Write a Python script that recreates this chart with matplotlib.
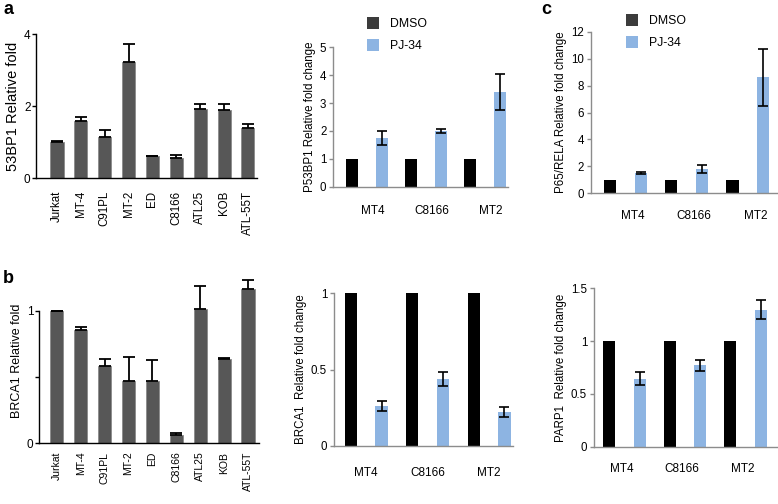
import matplotlib
matplotlib.use("Agg")
import matplotlib.pyplot as plt
import numpy as np
from matplotlib.patches import Patch

plt.rcParams['font.family'] = ['Liberation Sans', 'DejaVu Sans']

# ---------------- data ----------------
cell_lines = ["Jurkat", "MT-4", "C91PL", "MT-2", "ED", "C8166", "ATL25", "KOB", "ATL-55T"]
bp53_vals = [1.0, 1.57, 1.15, 3.22, 0.60, 0.55, 1.92, 1.89, 1.39]
bp53_err = [0.02, 0.12, 0.19, 0.51, 0.02, 0.09, 0.14, 0.16, 0.11]
brca1_vals = [1.0, 0.854, 0.583, 0.470, 0.472, 0.065, 1.015, 0.633, 1.166]
brca1_err = [0.0, 0.026, 0.053, 0.18, 0.158, 0.01, 0.175, 0.01, 0.064]

groups = ["MT4", "C8166", "MT2"]
series = ["DMSO", "PJ-34"]
p53bp1_dmso = [1.0, 1.0, 1.0]
p53bp1_pj = [1.75, 2.0, 3.40]
p53bp1_pj_err = [0.24, 0.07, 0.66]
p65_dmso = [1.0, 1.0, 1.0]
p65_pj = [1.51, 1.78, 8.6]
p65_pj_err = [0.05, 0.30, 2.1]
brca1_dmso = [1.0, 1.0, 1.0]
brca1_pj = [0.26, 0.438, 0.221]
brca1_pj_err = [0.035, 0.048, 0.03]
parp1_dmso = [1.0, 1.0, 1.0]
parp1_pj = [0.644, 0.77, 1.295]
parp1_pj_err = [0.06, 0.05, 0.09]

W, H = 778, 504
fig = plt.figure(figsize=(W / 100, H / 100), dpi=100)


def px_axes(x0, x1, ytop, ybot):
    return fig.add_axes([x0 / W, 1 - ybot / H, (x1 - x0) / W, (ybot - ytop) / H])


GRAY_BAR = "#575757"
BLUE = "#8db4e2"
AXG = "#8c8c8c"


def left_panel(ax, vals, errs, ylim, yticks, yticklabels, ylabel, ylabel_size, xlim, xlab_size, xpad, top_bound):
    x = np.arange(len(cell_lines))
    ax.bar(x, vals, width=0.55, color=GRAY_BAR, edgecolor="#8a8a8a", linewidth=0.6,
           yerr=[np.zeros(len(errs)), errs], error_kw=dict(ecolor="black", elinewidth=1.3, capsize=4.5, capthick=1.3))
    ax.set_xlim(*xlim)
    ax.set_ylim(*ylim)
    for s in ["top", "right"]:
        ax.spines[s].set_visible(False)
    ax.spines["left"].set_bounds(0, top_bound)
    ax.spines["left"].set_linewidth(1.0)
    ax.spines["bottom"].set_linewidth(1.0)
    ax.set_yticks(yticks)
    ax.set_yticklabels(yticklabels, fontsize=8.5)
    ax.tick_params(axis="y", length=3, width=1, pad=1)
    ax.set_xticks(x)
    ax.set_xticklabels(cell_lines, rotation=90, fontsize=xlab_size)
    ax.tick_params(axis="x", length=0, pad=xpad)
    ax.set_ylabel(ylabel, fontsize=ylabel_size, labelpad=3)
    ax.patch.set_alpha(0)


def excel_panel(ax, dmso, pj, pj_err, ylim, yticks, yticklabels, ylabel, xlim, xlab_off, xpad):
    x = np.arange(len(groups))
    ax.bar(x - 0.25, dmso, width=0.2, color="black", zorder=2)
    ax.bar(x + 0.25, pj, width=0.2, color=BLUE, zorder=2,
           yerr=pj_err, error_kw=dict(ecolor="black", elinewidth=1.2, capsize=3.5, capthick=1.2, zorder=3))
    ax.set_xlim(*xlim)
    ax.set_ylim(*ylim)
    for s in ["top", "right"]:
        ax.spines[s].set_visible(False)
    for s in ["left", "bottom"]:
        ax.spines[s].set_color(AXG)
        ax.spines[s].set_linewidth(1.0)
    ax.spines["left"].set_bounds(ylim[0], yticks[-1])
    ax.set_yticks(yticks)
    ax.set_yticklabels(yticklabels, fontsize=8.3)
    ax.tick_params(axis="y", length=3, width=1, color=AXG, pad=2)
    ax.set_xticks(x + xlab_off)
    ax.set_xticklabels(groups, fontsize=8.5)
    ax.tick_params(axis="x", length=0, pad=xpad)
    ax.set_ylabel(ylabel, fontsize=8.3, labelpad=3)
    ax.patch.set_alpha(0)


# Panel a (left)
ax1 = px_axes(36, 257, 34, 178)
left_panel(ax1, bp53_vals, bp53_err, (0, 4), [0, 2, 4], ["0", "2", "4"],
           "53BP1 Relative fold", 10.5, (-0.88, 8.38), 8.3, 9, 4)

# Panel b (left)
yb0, yb1 = 443.3, 310.7
ax4 = px_axes(39, 259, yb0 - 1.25 * (yb0 - yb1), yb0)
left_panel(ax4, brca1_vals, brca1_err, (0, 1.25), [0, 0.5, 1], ["0", "", "1"],
           "BRCA1 Relative fold", 9, (-0.75, 8.46), 7.5, 6, 1)

# Panel a (middle)
ax2 = px_axes(333.3, 508, 47.3, 186.7)
excel_panel(ax2, p53bp1_dmso, p53bp1_pj, p53bp1_pj_err, (0, 5), [0, 1, 2, 3, 4, 5],
            ["0", "1", "2", "3", "4", "5"], "P53BP1 Relative fold change",
            (-0.566, 2.385), 0.1, 13)

# Panel c (top right)
ax3 = px_axes(591, 778, 31.7, 193.3)
excel_panel(ax3, p65_dmso, p65_pj, p65_pj_err, (0, 12), [0, 2, 4, 6, 8, 10, 12],
            ["0", "2", "4", "6", "8", "10", "12"], "P65/RELA Relative fold change",
            (-0.56, 2.49), 0.12, 12)

# Panel b (middle)
ax5 = px_axes(334, 513, 293.3, 445.7)
excel_panel(ax5, brca1_dmso, brca1_pj, brca1_pj_err, (0, 1), [0, 0.5, 1],
            ["0", "0.5", "1"], "BRCA1  Relative fold change",
            (-0.525, 2.39), 0.0, 15)

# Panel c (bottom right)
ax6 = px_axes(594, 777, 288.3, 446.7)
excel_panel(ax6, parp1_dmso, parp1_pj, parp1_pj_err, (0, 1.5), [0, 0.5, 1, 1.5],
            ["0", "0.5", "1", "1.5"], "PARP1  Relative fold change",
            (-0.505, 2.52), -0.05, 12)

# Legends
handles = [Patch(facecolor="#3c3c3c", edgecolor="none"), Patch(facecolor=BLUE, edgecolor="none")]
for (lx, ly) in [(367 / W, 1 - 17 / H), (626 / W, 1 - 14 / H)]:
    fig.legend(handles, series, loc="upper left", bbox_to_anchor=(lx, ly), frameon=False,
               fontsize=8.8, handlelength=1.0, handleheight=1.15, handletextpad=0.9,
               labelspacing=0.7, borderaxespad=0, borderpad=0)

# Panel letters
fig.text(3 / W, 1 - 1 / H, "a", fontsize=13, fontweight="bold", va="top", ha="left")
fig.text(3 / W, 1 - 270 / H, "b", fontsize=13, fontweight="bold", va="top", ha="left")
fig.text(541 / W, 1 - 1 / H, "c", fontsize=13, fontweight="bold", va="top", ha="left")

fig.savefig("out.png", dpi=100)
